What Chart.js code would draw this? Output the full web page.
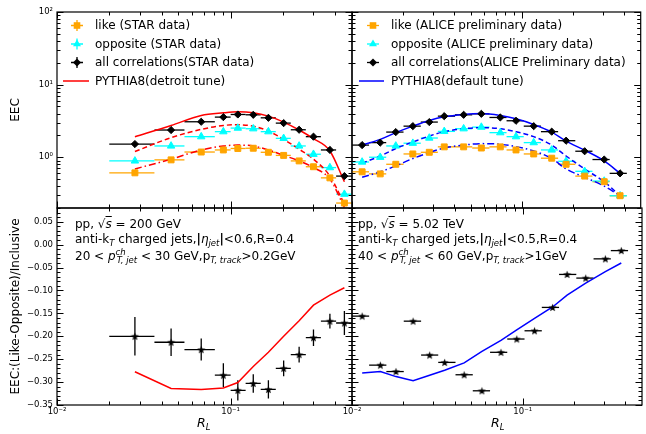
<!DOCTYPE html>
<html><head><meta charset="utf-8">
<script src="https://cdn.jsdelivr.net/npm/chart.js@4/dist/chart.umd.min.js"></script>
<style>
html,body{margin:0;padding:0;background:#fff;}
#page{position:relative;width:646px;height:434px;overflow:hidden;font-family:"DejaVu Sans",sans-serif;color:#000;}
canvas{position:absolute;left:0;top:0;}
.ann{position:absolute;font-size:12px;line-height:12px;white-space:nowrap;}
.ann i{font-style:italic;}
.sb{font-size:8.5px;line-height:0;vertical-align:-2.5px;}
.sp{font-size:8.5px;line-height:0;vertical-align:5px;}
.ov{text-decoration:overline;}
</style>
</head><body>
<div id="page">
<canvas id="tl" width="646" height="434"></canvas>
<canvas id="tr" width="646" height="434"></canvas>
<canvas id="bl" width="646" height="434"></canvas>
<canvas id="br" width="646" height="434"></canvas>

<div class="ann" style="left:75px;top:218px">pp, √<i class="ov">s</i> = 200 GeV</div>
<div class="ann" style="left:75px;top:233px">anti-k<span class="sb"><i>T</i></span> charged jets,<b>|</b><i>η</i><span class="sb"><i>jet</i></span><b>|</b>&lt;0.6,R=0.4</div>
<div class="ann" style="left:75px;top:250px">20 &lt; <i>p</i><span class="sp"><i>ch</i></span><span class="sb" style="margin-left:-9px"><i>T, jet</i></span> &lt; 30 GeV,p<span class="sb"><i>T, track</i></span>&gt;0.2GeV</div>

<div class="ann" style="left:358px;top:218px">pp, √<i class="ov">s</i> = 5.02 TeV</div>
<div class="ann" style="left:358px;top:233px">anti-k<span class="sb"><i>T</i></span> charged jets,<b>|</b><i>η</i><span class="sb"><i>jet</i></span><b>|</b>&lt;0.5,R=0.4</div>
<div class="ann" style="left:358px;top:250px">40 &lt; <i>p</i><span class="sp"><i>ch</i></span><span class="sb" style="margin-left:-9px"><i>T, jet</i></span> &lt; 60 GeV,p<span class="sb"><i>T, track</i></span>&gt;1GeV</div>

<div class="ann" style="left:197px;top:417px;font-size:12.5px"><i>R</i><span class="sb"><i>L</i></span></div>
<div class="ann" style="left:491px;top:417px;font-size:12.5px"><i>R</i><span class="sb"><i>L</i></span></div>
</div>

<script>
// ---------------- DATA ----------------
// STAR, pp 200 GeV (left panels)
const starRL     = [0.0281,0.0454,0.0677,0.0908,0.110,0.135,0.165,0.202,0.248,0.300,0.373,0.452];
const starBinLo  = [0.0200,0.0364,0.0542,0.0811,0.100,0.122,0.149,0.182,0.222,0.271,0.331,0.405];
const starBinHi  = [0.0364,0.0542,0.0811,0.100,0.122,0.149,0.182,0.222,0.271,0.331,0.405,0.499];
const starLike   = [0.61,0.92,1.18,1.26,1.32,1.33,1.17,1.06,0.89,0.74,0.52,0.234];
const starOpp    = [0.89,1.43,1.92,2.25,2.52,2.47,2.25,1.82,1.43,1.10,0.72,0.31];
const starAll    = [1.52,2.37,3.08,3.57,3.88,3.84,3.49,2.95,2.39,1.92,1.26,0.55];
const pyDetAll   = [1.92,2.74,3.76,4.09,4.22,4.09,3.68,3.05,2.37,1.80,1.22,0.46];
const pyDetOpp   = [1.20,1.86,2.42,2.74,2.80,2.68,2.29,1.76,1.29,0.94,0.55,0.227];
const pyDetLike  = [0.69,0.94,1.26,1.43,1.47,1.43,1.26,1.06,0.89,0.72,0.50,0.204];
const starRatio  = [-0.200,-0.213,-0.229,-0.285,-0.318,-0.303,-0.316,-0.270,-0.240,-0.203,-0.167,-0.171];
const starRatioErr = [0.042,0.030,0.024,0.026,0.022,0.020,0.020,0.017,0.017,0.018,0.016,0.026];
const pyDetRatio = [-0.2775,-0.314,-0.316,-0.313,-0.301,-0.266,-0.235,-0.200,-0.166,-0.132,-0.110,-0.094];

// ALICE, pp 5.02 TeV (right panels)
const aliceRL    = [0.01147,0.01466,0.0181,0.0228,0.0285,0.0349,0.0454,0.0577,0.0746,0.0923,0.1173,0.1497,0.182,0.234,0.305,0.378];
const aliceBinLo = [0.0100,0.0126,0.0159,0.0201,0.0254,0.0320,0.0404,0.0510,0.0644,0.0812,0.1025,0.1294,0.1633,0.2061,0.2601,0.3283];
const aliceBinHi = [0.0126,0.0159,0.0201,0.0254,0.0320,0.0404,0.0510,0.0644,0.0812,0.1025,0.1294,0.1633,0.2061,0.2601,0.3283,0.4143];
const aliceLike  = [0.63,0.59,0.80,1.11,1.17,1.39,1.39,1.34,1.39,1.26,1.11,0.97,0.80,0.55,0.46,0.295];
const aliceOpp   = [0.86,1.00,1.43,1.56,1.84,2.27,2.47,2.60,2.18,1.92,1.59,1.26,0.88,0.64,0.47,0.295];
const aliceAll   = [1.47,1.59,2.22,2.68,3.05,3.68,3.84,3.96,3.53,3.18,2.68,2.25,1.69,1.21,0.93,0.60];
const pyDefAll   = [1.47,1.76,2.18,2.68,3.21,3.60,3.88,4.00,3.76,3.39,2.83,2.22,1.67,1.25,0.89,0.60];
const pyDefOpp   = [0.83,1.04,1.32,1.62,1.96,2.25,2.47,2.55,2.47,2.25,1.92,1.47,1.04,0.69,0.46,0.295];
const pyDefLike  = [0.53,0.63,0.76,0.96,1.16,1.34,1.47,1.54,1.51,1.40,1.22,0.96,0.69,0.53,0.40,0.295];
const aliceRatio = [-0.156,-0.263,-0.277,-0.167,-0.241,-0.257,-0.284,-0.319,-0.235,-0.206,-0.188,-0.137,-0.065,-0.073,-0.031,-0.013];
const pyDefRatio = [-0.280,-0.277,-0.288,-0.297,-0.285,-0.274,-0.258,-0.233,-0.209,-0.186,-0.161,-0.136,-0.110,-0.084,-0.059,-0.040];

// ticks
const xMajorTicks = [0.01,0.1];
const xMajorLabels = ['10\u207B\u00B2','10\u207B\u00B9'];
const xMinorTicks = [0.02,0.03,0.04,0.05,0.06,0.07,0.08,0.09,0.2,0.3,0.4];
const topYTicks = [1,10,100];
const topYLabels = ['10\u2070','10\u00B9','10\u00B2'];
const topYMinor = [0.2,0.3,0.4,0.5,0.6,0.7,0.8,0.9,2,3,4,5,6,7,8,9,20,30,40,50,60,70,80,90];
const botYTicks = [-0.35,-0.30,-0.25,-0.20,-0.15,-0.10,-0.05,0.00,0.05];
const botYLabels = ['\u22120.35','\u22120.30','\u22120.25','\u22120.20','\u22120.15','\u22120.10','\u22120.05','0.00','0.05'];
const botYMinor = [-0.34,-0.33,-0.32,-0.31,-0.29,-0.28,-0.27,-0.26,-0.24,-0.23,-0.22,-0.21,-0.19,-0.18,-0.17,-0.16,-0.14,-0.13,-0.12,-0.11,-0.09,-0.08,-0.07,-0.06,-0.04,-0.03,-0.02,-0.01,0.01,0.02,0.03,0.04,0.06,0.07];

// ---------------- STYLE / HELPERS ----------------
const FAM = '"DejaVu Sans", sans-serif';
const ORANGE = '#FFA500', CYAN = '#00FFFF', BLACK = '#000000', RED = '#FF0000', BLUE = '#0000FF';
const DASH = [5,3], DASHDOT = [7,3,1.5,3];
Chart.defaults.font.family = FAM;
Chart.defaults.color = '#000';

function starImg(){
  const c=document.createElement('canvas'); c.width=9; c.height=9;
  const g=c.getContext('2d'); g.fillStyle='#000'; g.beginPath();
  for(let i=0;i<10;i++){
    const r=(i%2===0)?4.2:1.8, a=-Math.PI/2+i*Math.PI/5;
    const px=4.5+r*Math.cos(a), py=4.9+r*Math.sin(a);
    if(i) g.lineTo(px,py); else g.moveTo(px,py);
  }
  g.closePath(); g.fill(); return c;
}
const STAR = starImg();

const pts = (xs, ys) => xs.map((x,i)=>({x, y: ys[i]}));

function markerDS(xs, ys, color, style, r, lo, hi, yErr){
  return {data: pts(xs,ys), showLine:false, pointStyle:style, pointRadius:r,
    pointBackgroundColor:color, pointBorderColor:color, pointBorderWidth:style===STAR?0:1,
    borderColor:color, xLo:lo, xHi:hi, yErr:yErr||null, order:0};
}
function lineDS(xs, ys, color, dash, smooth){
  return {data: pts(xs,ys), showLine:true, borderColor:color, borderWidth:1.5, borderDash:dash||[],
    pointRadius:0, fill:false, cubicInterpolationMode: smooth?'monotone':'default', tension: 0, order:1};
}

const errorBars = {
  id:'errorBars',
  beforeDatasetsDraw(chart){
    const ctx=chart.ctx, xs=chart.scales.x, ys=chart.scales.y;
    ctx.save();
    chart.data.datasets.forEach(ds=>{
      if(!ds.xLo) return;
      ctx.strokeStyle=ds.borderColor; ctx.lineWidth=1.3; ctx.setLineDash([]);
      ds.data.forEach((p,i)=>{
        const px=xs.getPixelForValue(p.x), py=ys.getPixelForValue(p.y);
        ctx.beginPath();
        ctx.moveTo(xs.getPixelForValue(ds.xLo[i]),py); ctx.lineTo(xs.getPixelForValue(ds.xHi[i]),py);
        if(ds.yErr){ ctx.moveTo(px, ys.getPixelForValue(p.y-ds.yErr[i])); ctx.lineTo(px, ys.getPixelForValue(p.y+ds.yErr[i])); }
        ctx.stroke();
      });
    });
    ctx.restore();
  }
};

const frameTicks = {
  id:'frameTicks',
  afterDraw(chart){
    const o=chart.options.plugins.frameTicks; if(!o || !o.xMajor) return;
    const ctx=chart.ctx, a=chart.chartArea, xs=chart.scales.x, ys=chart.scales.y;
    ctx.save(); ctx.strokeStyle='#000'; ctx.lineWidth=1; ctx.setLineDash([]);
    const M=6.5, m=3.5;
    const tx=(vals,len)=>vals.forEach(v=>{
      const px=Math.round(xs.getPixelForValue(v))+0.5;
      if(px<a.left-0.1||px>a.right+0.6) return;
      ctx.beginPath(); ctx.moveTo(px,a.bottom); ctx.lineTo(px,a.bottom-len);
      ctx.moveTo(px,a.top); ctx.lineTo(px,a.top+len); ctx.stroke();
    });
    const ty=(vals,len)=>vals.forEach(v=>{
      const py=Math.round(ys.getPixelForValue(v))+0.5;
      if(py<a.top-0.1||py>a.bottom+0.6) return;
      ctx.beginPath(); ctx.moveTo(a.left,py); ctx.lineTo(a.left+len,py);
      ctx.moveTo(a.right,py); ctx.lineTo(a.right-len,py); ctx.stroke();
    });
    tx(o.xMajor,M); tx(o.xMinor,m); ty(o.yMajor,M); ty(o.yMinor,m);
    ctx.lineWidth=1.2;
    ctx.strokeRect(a.left,a.top,a.right-a.left,a.bottom-a.top);
    ctx.restore();
  }
};

function drawMarker(ctx, style, x, y, color){
  ctx.fillStyle=color; ctx.strokeStyle=color; ctx.lineWidth=1;
  ctx.beginPath();
  if(style==='rect'){ ctx.rect(x-3.3,y-3.3,6.6,6.6); }
  else if(style==='triangle'){ const r=4.6; ctx.moveTo(x,y-r); ctx.lineTo(x+r*0.866,y+r*0.5); ctx.lineTo(x-r*0.866,y+r*0.5); ctx.closePath(); }
  else { const r=4; ctx.moveTo(x,y-r); ctx.lineTo(x+r,y); ctx.lineTo(x,y+r); ctx.lineTo(x-r,y); ctx.closePath(); }
  ctx.fill();
}

const legendPlugin = {
  id:'inLegend',
  afterDraw(chart){
    const o=chart.options.plugins.inLegend; if(!o || !o.items) return;
    const ctx=chart.ctx; ctx.save();
    ctx.font='12px '+FAM; ctx.textBaseline='middle';
    o.items.forEach(it=>{
      if(it.style==='line'){
        ctx.strokeStyle=it.color; ctx.lineWidth=1.5; ctx.setLineDash([]);
        ctx.beginPath(); ctx.moveTo(o.lineX0,it.y); ctx.lineTo(o.lineX1,it.y); ctx.stroke();
      } else {
        ctx.strokeStyle=it.color; ctx.lineWidth=1.3; ctx.setLineDash([]);
        ctx.beginPath(); ctx.moveTo(o.markX-6,it.y); ctx.lineTo(o.markX+6,it.y);
        if(o.vbar){ ctx.moveTo(o.markX,it.y-5.5); ctx.lineTo(o.markX,it.y+5.5); }
        ctx.stroke();
        drawMarker(ctx,it.style,o.markX,it.y,it.color);
      }
      ctx.fillStyle='#000'; ctx.fillText(it.text,o.textX,it.y+0.5);
    });
    ctx.restore();
  }
};

Chart.register(errorBars, frameTicks, legendPlugin);

const tickFont = {family:FAM, size:8.5};
const titleFont = {family:FAM, size:12};

function xScale(show){
  return {type:'logarithmic', min:0.01, max:0.5, display:show, position:'bottom',
    afterBuildTicks:s=>{ s.ticks = xMajorTicks.map(v=>({value:v})); },
    afterFit:s=>{ s.height = show ? 29 : 0; },
    grid:{display:false, drawTicks:false}, border:{display:false},
    ticks:{font:tickFont, color:'#000', padding:2, autoSkip:false, maxRotation:0,
      callback:(v,i)=>xMajorLabels[i]}};
}
function yTop(show){
  return {type:'logarithmic', min:0.2, max:100, display:show, position:'left',
    afterBuildTicks:s=>{ s.ticks = topYTicks.map(v=>({value:v})); },
    afterFit:s=>{ s.width = show ? 57 : 0; },
    grid:{display:false, drawTicks:false}, border:{display:false},
    ticks:{font:tickFont, color:'#000', padding:4, autoSkip:false, callback:(v,i)=>topYLabels[i]},
    title:{display:true, text:'EEC', font:titleFont, color:'#000', padding:{top:9,bottom:0}}};
}
function yBot(show){
  return {type:'linear', min:-0.35, max:0.08, display:show, position:'left',
    afterBuildTicks:s=>{ s.ticks = botYTicks.map(v=>({value:v})); },
    afterFit:s=>{ s.width = show ? 57 : 0; },
    grid:{display:false, drawTicks:false}, border:{display:false},
    ticks:{font:tickFont, color:'#000', padding:4, autoSkip:false, callback:(v,i)=>botYLabels[i]},
    title:{display:true, text:'EEC:(Like-Opposite)/Inclusive', font:titleFont, color:'#000', padding:{top:9,bottom:0}}};
}
function baseOpts(padding, scales, extra){
  return {responsive:false, animation:false, devicePixelRatio:1, events:[],
    layout:{padding}, scales,
    plugins:Object.assign({legend:{display:false}, tooltip:{enabled:false}}, extra)};
}
const topTicks = {xMajor:xMajorTicks, xMinor:xMinorTicks, yMajor:topYTicks, yMinor:topYMinor};
const botTicks = {xMajor:xMajorTicks, xMinor:xMinorTicks, yMajor:botYTicks, yMinor:botYMinor};

// ---------------- TOP LEFT ----------------
new Chart(document.getElementById('tl'), {
  type:'line',
  data:{datasets:[
    lineDS(starRL, pyDetAll, RED, [], true),
    lineDS(starRL, pyDetOpp, RED, DASH, true),
    lineDS(starRL, pyDetLike, RED, DASHDOT, true),
    markerDS(starRL, starLike, ORANGE, 'rect', 4.2, starBinLo, starBinHi),
    markerDS(starRL, starOpp, CYAN, 'triangle', 4.3, starBinLo, starBinHi),
    markerDS(starRL, starAll, BLACK, 'rectRot', 3.6, starBinLo, starBinHi),
  ]},
  options: baseOpts({left:0, top:12, right:294, bottom:226},
    {x:xScale(false), y:yTop(true)},
    {frameTicks:topTicks,
     inLegend:{markX:77, textX:95, lineX0:63, lineX1:89, vbar:true, items:[
       {style:'rect', color:ORANGE, y:25.5, text:'like (STAR data)'},
       {style:'triangle', color:CYAN, y:44, text:'opposite (STAR data)'},
       {style:'diamond', color:BLACK, y:62.5, text:'all correlations(STAR data)'},
       {style:'line', color:RED, y:81, text:'PYTHIA8(detroit tune)'}]}})
});

// ---------------- TOP RIGHT ----------------
new Chart(document.getElementById('tr'), {
  type:'line',
  data:{datasets:[
    lineDS(aliceRL, pyDefAll, BLUE, [], true),
    lineDS(aliceRL, pyDefOpp, BLUE, DASH, true),
    lineDS(aliceRL, pyDefLike, BLUE, DASHDOT, true),
    markerDS(aliceRL, aliceLike, ORANGE, 'rect', 4.2, aliceBinLo, aliceBinHi),
    markerDS(aliceRL, aliceOpp, CYAN, 'triangle', 4.3, aliceBinLo, aliceBinHi),
    markerDS(aliceRL, aliceAll, BLACK, 'rectRot', 3.6, aliceBinLo, aliceBinHi),
  ]},
  options: baseOpts({left:352, top:12, right:1, bottom:226},
    {x:xScale(false), y:yTop(false)},
    {frameTicks:topTicks,
     inLegend:{markX:373, textX:391, lineX0:359, lineX1:384, vbar:false, items:[
       {style:'rect', color:ORANGE, y:25.5, text:'like (ALICE preliminary data)'},
       {style:'triangle', color:CYAN, y:44, text:'opposite (ALICE preliminary data)'},
       {style:'diamond', color:BLACK, y:62.5, text:'all correlations(ALICE Preliminary data)'},
       {style:'line', color:BLUE, y:81, text:'PYTHIA8(default tune)'}]}})
});

// ---------------- BOTTOM LEFT ----------------
new Chart(document.getElementById('bl'), {
  type:'line',
  data:{datasets:[
    lineDS(starRL, pyDetRatio, RED, [], false),
    markerDS(starRL, starRatio, BLACK, STAR, 4, starBinLo, starBinHi, starRatioErr),
  ]},
  options: baseOpts({left:0, top:208, right:294, bottom:0},
    {x:xScale(true), y:yBot(true)},
    {frameTicks:botTicks})
});

// ---------------- BOTTOM RIGHT ----------------
new Chart(document.getElementById('br'), {
  type:'line',
  data:{datasets:[
    lineDS(aliceRL, pyDefRatio, BLUE, [], false),
    markerDS(aliceRL, aliceRatio, BLACK, STAR, 4, aliceBinLo, aliceBinHi),
  ]},
  options: baseOpts({left:352, top:208, right:1, bottom:0},
    {x:xScale(true), y:yBot(false)},
    {frameTicks:botTicks})
});
</script>
</body></html>
